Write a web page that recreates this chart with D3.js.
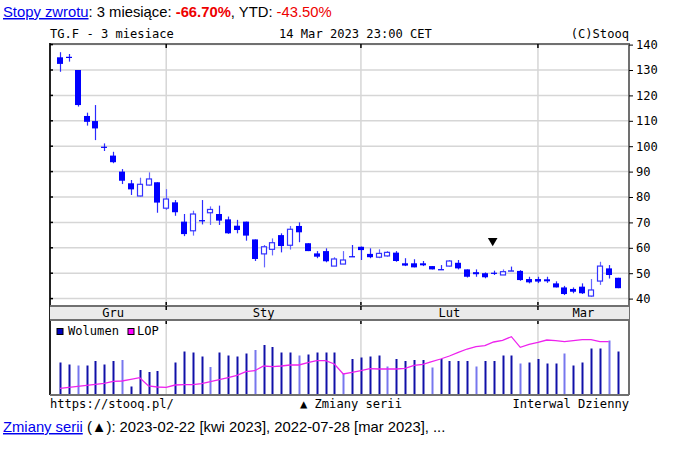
<!DOCTYPE html>
<html><head><meta charset="utf-8">
<script src="https://cdn.jsdelivr.net/npm/d3@7"></script>
<style>
html,body{margin:0;padding:0;background:#fff;}
svg{display:block;}
.mono{font-family:"DejaVu Sans Mono",monospace;font-size:12.1px;fill:#000;}
.sans{font-family:"Liberation Sans",Arial,sans-serif;}
</style></head>
<body>
<svg id="c" width="682" height="449"></svg>
<script>
const dates = ["2022-12-15","2022-12-16","2022-12-19","2022-12-20","2022-12-21","2022-12-22","2022-12-23","2022-12-26","2022-12-27","2022-12-28","2022-12-29","2022-12-30",
"2023-01-02","2023-01-03","2023-01-04","2023-01-05","2023-01-06","2023-01-09","2023-01-10","2023-01-11","2023-01-12","2023-01-13","2023-01-16","2023-01-17","2023-01-18","2023-01-19","2023-01-20","2023-01-23","2023-01-24","2023-01-25","2023-01-26","2023-01-27","2023-01-30","2023-01-31",
"2023-02-01","2023-02-02","2023-02-03","2023-02-06","2023-02-07","2023-02-08","2023-02-09","2023-02-10","2023-02-13","2023-02-14","2023-02-15","2023-02-16","2023-02-17","2023-02-20","2023-02-21","2023-02-22","2023-02-23","2023-02-24","2023-02-27","2023-02-28",
"2023-03-01","2023-03-02","2023-03-03","2023-03-06","2023-03-07","2023-03-08","2023-03-09","2023-03-10","2023-03-13","2023-03-14"];
const open  = [135,135.2,130,111.9,109.9,99.8,96.3,90,85.4,80.4,84.7,85.8,75.6,77.9,70.3,66.7,70.9,73.8,73.3,71.2,68.7,70.3,63.3,57.6,59.4,65,61,68.6,61.8,57.8,58.7,52.8,53.6,56.7,60.4,57.6,56.3,56.8,58.1,53.9,53.9,53.9,52.8,51.6,52.8,54.1,51.5,50.4,50,50.2,49.3,51.1,50.9,47.7,47.7,47.6,46,44.4,43.8,44.7,41,46.9,51.9,48.2];
const high  = [137,136.3,130,113.2,116.2,101.1,97.8,91,86.7,87.6,89.7,85.8,83.1,78.8,73.3,74.6,78.8,76.3,76.6,72.3,71,70.3,63.3,61.1,63.7,65.7,68.6,70,61.8,58.7,59.8,56.3,58.7,61.1,60.5,59.8,59.4,58.7,58.7,55.9,55.5,54.8,52.8,53.2,55.2,55.2,51.5,51.5,50.3,51,51.5,52.6,51.2,48.6,48.6,48.6,46.8,45,44.4,46,47.7,54.5,53.2,48.2];
const low   = [129.3,133.3,115.6,108.1,102.4,98.1,93.3,85.1,80.8,80.2,84.5,73.8,74.9,72.6,64.6,64.8,69.2,69,69,65.5,65.7,62.8,54.8,52.3,57,58.2,59.3,62.2,58.7,55.9,54.3,52.8,53.6,56.5,55.2,55.9,55.9,56.5,54.5,52.8,52.3,52.8,51.5,51.5,52.6,51.5,48.3,48.6,48,49.3,49.3,51,47,46,46.1,46.2,44.4,41.4,42.1,41.8,40.7,45.4,47.9,44.1];
const close = [132.4,135.2,116.2,109.6,107,99.8,93.7,86.4,83,85,87.1,77.8,79.2,74,65.4,73.3,70.4,75.1,70.7,65.7,67,64.8,55.6,60.4,62,60.7,67.3,66.1,58.7,56.5,54.7,55.6,55.2,56.6,59.1,56.3,57.8,58.2,54.8,53,52.3,53.1,51.5,51.5,54.8,51.9,48.6,49.6,48.4,49.9,50.6,51.0,47.3,46.4,46.7,46.8,44.4,41.8,42.7,42.1,43.4,52.8,49.3,44.1];
const volume = [65,61,59,59,68,61,68,70,17,50,46,48,0,65,87,85,77,56,85,79,77,83,90,100,96,85,85,79,81,85,85,85,43,72,75,77,79,57,72,68,70,70,55,72,68,68,68,57,68,68,79,79,63,65,72,63,63,83,59,65,93,93,109,87];
const lop = [67,77,87,97,107,117,137,140,157,173,90,80,77,100,103,103,113,133,153,173,197,233,243,290,283,290,300,300,323,343,343,310,210,227,243,263,260,260,260,267,297,307,333,360,390,427,460,483,493,530,547,583,477,507,527,550,543,533,543,553,553,533,533,null];
const monthNames = ["Gru","Sty","Lut","Mar"];
const priceTicks = [40,50,60,70,80,90,100,110,120,130,140];
const seriesChangeDate = "2023-02-22";

const svg = d3.select("#c");
const L = 50, R = 629, PT = 44, PB = 306, MB = 320, VB = 395;

const x = d3.scalePoint().domain(dates).range([60, 617.6]);
const y = d3.scaleLinear().domain([40,140]).range([298.6, 44.6]);
const yv = d3.scaleLinear().domain([0,150]).range([VB, MB]);
const yl = d3.scaleLinear().domain([0,750]).range([VB, MB]);

// header
const hdr = svg.append("text").attr("class","sans").attr("x",3).attr("y",17).style("font-size","14.8px");
hdr.append("tspan").text("Stopy zwrotu").attr("fill","#0000ee").attr("text-decoration","underline");
hdr.append("tspan").text(": 3 miesiące: ").attr("fill","#000");
hdr.append("tspan").text("-66.70%").attr("fill","#ee0000").attr("font-weight","bold");
hdr.append("tspan").text(", YTD: ").attr("fill","#000");
hdr.append("tspan").text("-43.50%").attr("fill","#ee0000");

svg.append("text").attr("class","mono").attr("x",50).attr("y",38).text("TG.F - 3 miesiace");
svg.append("text").attr("class","mono").attr("x",279).attr("y",38).text("14 Mar 2023 23:00 CET");
svg.append("text").attr("class","mono").attr("x",629).attr("y",38).attr("text-anchor","end").text("(C)Stooq");

// month boundaries
const monthStarts = [0];
dates.forEach((d,i)=>{ if(i>0 && d.slice(5,7)!==dates[i-1].slice(5,7)) monthStarts.push(i); });
const bx = monthStarts.slice(1).map(i=>x(dates[i]));

// grid price
const g = svg.append("g");
g.selectAll(".hg").data(priceTicks).join("line")
 .attr("x1",L).attr("x2",R).attr("y1",d=>y(d)).attr("y2",d=>y(d))
 .attr("stroke","#d6d6d6").attr("stroke-width",1.5);
g.selectAll(".vg").data(bx).join("line")
 .attr("x1",d=>d).attr("x2",d=>d).attr("y1",PT).attr("y2",PB)
 .attr("stroke","#d6d6d6").attr("stroke-width",1.5);
g.selectAll(".vg2").data(bx).join("line")
 .attr("x1",d=>d).attr("x2",d=>d).attr("y1",MB).attr("y2",VB)
 .attr("stroke","#d6d6d6").attr("stroke-width",1.5);

// candles
const idx = d3.range(dates.length);
const cw = 6;
const cg = svg.append("g");
cg.selectAll(".wick").data(idx).join("line")
 .attr("x1",i=>Math.round(x(dates[i]))+0.5).attr("x2",i=>Math.round(x(dates[i]))+0.5)
 .attr("y1",i=>y(high[i])).attr("y2",i=>y(low[i]))
 .attr("stroke",i=>close[i]>open[i]?"#6666ff":"#2a2aff").attr("stroke-width",1.2);
cg.selectAll(".body").data(idx).join("rect")
 .attr("x",i=>Math.round(x(dates[i]))-cw/2+0.5+ (close[i]>open[i]?0:-0.5))
 .attr("width",i=>close[i]>open[i]?cw-1:cw)
 .attr("y",i=>y(Math.max(open[i],close[i])))
 .attr("height",i=>Math.max(1.2, Math.abs(y(open[i])-y(close[i]))))
 .attr("fill",i=>close[i]>open[i]?"#fff":"#0000ff")
 .attr("stroke",i=>close[i]>open[i]?"#3333ff":"none")
 .attr("stroke-width",1.2);

// series change marker
const si = dates.indexOf(seriesChangeDate);
svg.append("path").attr("d",d3.symbol().type(d3.symbolTriangle).size(40))
 .attr("transform",`translate(${x(dates[si])-1},${y(high[si])-30}) rotate(180)`)
 .attr("fill","#000");

// price frame
svg.append("line").attr("x1",L).attr("x2",R).attr("y1",PT).attr("y2",PT).attr("stroke","#707070").attr("stroke-width",2);
svg.append("line").attr("x1",L).attr("x2",L).attr("y1",PT-1).attr("y2",VB).attr("stroke","#222").attr("stroke-width",2);
svg.append("line").attr("x1",R).attr("x2",R).attr("y1",PT-1).attr("y2",VB).attr("stroke","#707070").attr("stroke-width",2);

// left ticks & right axis
svg.selectAll(".lt").data(priceTicks).join("line")
 .attr("x1",L).attr("x2",L+3).attr("y1",d=>y(d)).attr("y2",d=>y(d)).attr("stroke","#000").attr("stroke-width",1.5);
const axisR = d3.axisRight(y).tickValues(priceTicks).tickSize(4).tickPadding(3);
const ar = svg.append("g").attr("transform",`translate(${R},0)`).call(axisR);
ar.select(".domain").remove();
ar.selectAll("text").attr("class","mono").style("font-family","'DejaVu Sans Mono',monospace").style("font-size","12.1px").attr("fill","#000");

// top/bottom month ticks
svg.selectAll(".tt").data(bx).join("line").attr("x1",d=>d).attr("x2",d=>d).attr("y1",PT).attr("y2",PT+4).attr("stroke","#000").attr("stroke-width",1.5);
svg.selectAll(".bt").data(bx).join("line").attr("x1",d=>d).attr("x2",d=>d).attr("y1",PB-4).attr("y2",PB).attr("stroke","#000").attr("stroke-width",1.5);
svg.selectAll(".vt").data(bx).join("line").attr("x1",d=>d).attr("x2",d=>d).attr("y1",MB).attr("y2",MB+4).attr("stroke","#000").attr("stroke-width",1.5);

// month strip
svg.append("rect").attr("x",L).attr("y",PB).attr("width",R-L).attr("height",MB-PB).attr("fill","#ebebeb");
svg.append("line").attr("x1",L).attr("x2",R).attr("y1",PB).attr("y2",PB).attr("stroke","#707070").attr("stroke-width",2);
svg.append("line").attr("x1",L).attr("x2",R).attr("y1",MB).attr("y2",MB).attr("stroke","#707070").attr("stroke-width",2);
const edges = [x(dates[0])].concat(bx).concat([R]);
svg.selectAll(".ml").data(monthNames).join("text").attr("class","mono")
 .attr("x",(d,i)=>(edges[i]+edges[i+1])/2).attr("y",317).attr("text-anchor","middle").text(d=>d);
svg.selectAll(".mt").data(bx).join("line").attr("x1",d=>d).attr("x2",d=>d).attr("y1",PB).attr("y2",PB+4).attr("stroke","#000").attr("stroke-width",1.5);

// volume (Monday bars lighter)
const isMonday = i => new Date(dates[i]+"T12:00:00Z").getUTCDay()===1;
svg.selectAll(".vb").data(idx.filter(i=>volume[i]>0)).join("line")
 .attr("x1",i=>Math.round(x(dates[i]))+0.5).attr("x2",i=>Math.round(x(dates[i]))+0.5)
 .attr("y1",VB).attr("y2",i=>yv(volume[i]))
 .attr("stroke",i=>isMonday(i)?"#7777ee":"#1010a8").attr("stroke-width",2);
const line = d3.line().defined(i=>lop[i]!=null).x(i=>x(dates[i])).y(i=>yl(lop[i]));
svg.append("path").datum(idx).attr("d",line).attr("fill","none").attr("stroke","#ee22ee").attr("stroke-width",1.3);
svg.append("line").attr("x1",L).attr("x2",R).attr("y1",VB).attr("y2",VB).attr("stroke","#707070").attr("stroke-width",2);

// legend
svg.append("rect").attr("x",57).attr("y",328.5).attr("width",6).attr("height",6).attr("fill","#0000c0").attr("stroke","#000").attr("stroke-width",1);
svg.append("text").attr("class","mono").attr("x",68).attr("y",335).text("Wolumen");
svg.append("rect").attr("x",128).attr("y",328.5).attr("width",6).attr("height",6).attr("fill","#ff00ff").attr("stroke","#000").attr("stroke-width",1);
svg.append("text").attr("class","mono").attr("x",137).attr("y",335).text("LOP");

// footer row
svg.append("text").attr("class","mono").attr("x",50).attr("y",408).text("https://stooq.pl/");
svg.append("text").attr("class","mono").attr("x",300).attr("y",408).text("▲ Zmiany serii");
svg.append("text").attr("class","mono").attr("x",629).attr("y",408).attr("text-anchor","end").text("Interwal Dzienny");

const ft = svg.append("text").attr("class","sans").attr("x",3).attr("y",432).style("font-size","14.8px");
ft.append("tspan").text("Zmiany serii").attr("fill","#0000ee").attr("text-decoration","underline");
ft.append("tspan").text(" (▲): 2023-02-22 [kwi 2023], 2022-07-28 [mar 2023], ...").attr("fill","#000");
</script>
</body></html>
